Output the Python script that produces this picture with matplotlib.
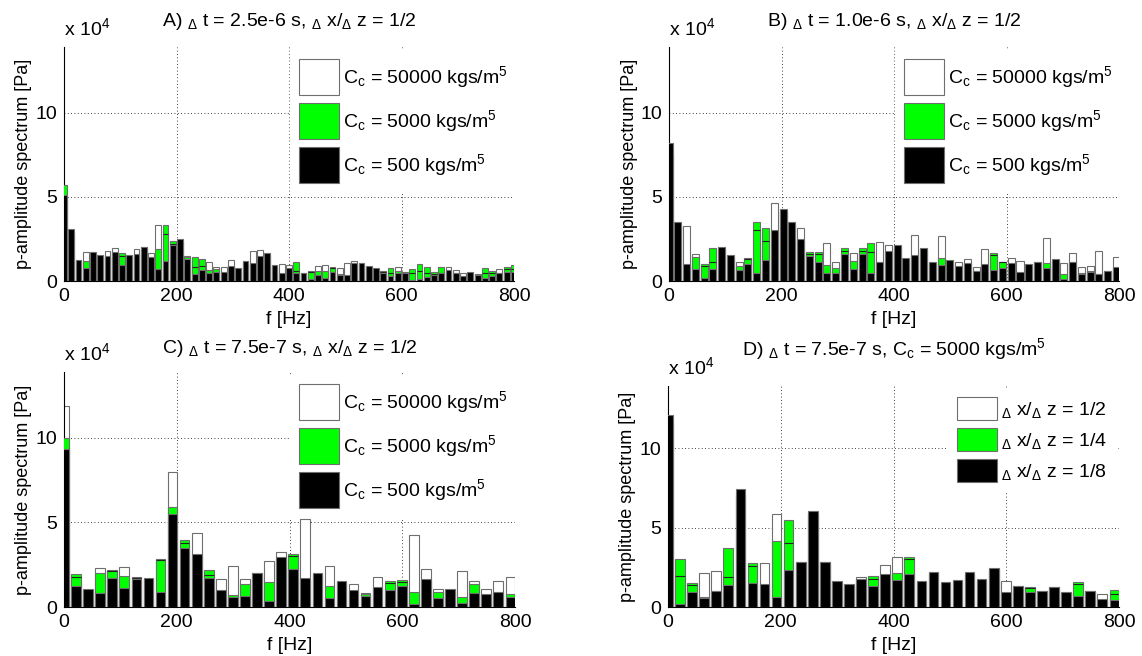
import matplotlib.pyplot as plt
import numpy as np

plt.rcParams['font.family'] = ['Liberation Sans', 'DejaVu Sans']
plt.rcParams['mathtext.fontset'] = 'custom'
plt.rcParams['mathtext.rm'] = 'Liberation Sans'
plt.rcParams['mathtext.it'] = 'Liberation Sans'
plt.rcParams['font.size'] = 14

GREEN = '#00ff00'
EDGE = '#6e6e6e'

# frequency resolution of each run [Hz]
df_a = 12.9
df_b = 15.6
df_cd = 21.4

# amplitude spectra, units of 1e4 Pa
white_a = [4.8, 2.8, 1.1, 1.75, 1.6, 1.5, 1.8, 1.98, 1.5, 1.4,
           1.9, 1.9, 1.65, 3.33, 2.8, 2.2, 2.3, 1.48, 0.85, 0.9,
           1.11, 0.85, 0.85, 1.25, 0.7, 1.1, 1.8, 1.85, 1.5, 0.9,
           0.99, 0.93, 0.6, 0.45, 0.55, 0.91, 0.97, 0.8, 0.75, 1.05,
           1.19, 1.0, 0.85, 0.7, 0.55, 0.45, 0.81, 0.56, 0.45, 0.6,
           0.45, 0.4, 0.5, 0.81, 0.65, 0.46, 0.5, 0.38, 0.5, 0.45,
           0.69, 0.7, 0.7]
green_a = [5.7, 2.9, 1.2, 1.2, 1.65, 1.45, 1.4, 1.6, 1.65, 1.5,
           1.55, 2.0, 1.4, 1.88, 3.33, 2.4, 2.4, 1.4, 1.45, 1.29,
           0.65, 0.7, 0.5, 0.85, 0.6, 1.0, 1.0, 1.4, 1.6, 0.85,
           0.4, 0.7, 1.15, 0.4, 0.6, 0.6, 0.6, 0.85, 0.4, 0.3,
           1.0, 0.95, 0.8, 0.7, 0.6, 0.75, 0.6, 0.4, 0.69, 0.99,
           0.85, 0.56, 0.85, 0.6, 0.5, 0.3, 0.45, 0.4, 0.75, 0.6,
           0.5, 0.85, 0.95]
black_a = [5.1, 3.1, 1.25, 0.75, 1.73, 1.55, 1.49, 1.73, 0.93, 1.55,
           1.6, 2.04, 1.45, 0.7, 1.19, 2.15, 2.48, 1.3, 0.42, 0.65,
           0.5, 0.55, 0.55, 0.9, 0.75, 1.19, 1.09, 1.49, 1.65, 0.93,
           0.46, 0.75, 0.5, 0.5, 0.1, 0.35, 0.16, 0.55, 0.36, 0.36,
           1.05, 1.05, 0.9, 0.75, 0.46, 0.32, 0.5, 0.46, 0.05, 0.1,
           0.26, 0.36, 0.45, 0.65, 0.5, 0.32, 0.56, 0.36, 0.2, 0.3,
           0.46, 0.56, 0.55]

white_b = [7.5, 3.2, 3.27, 1.59, 0.9, 1.1, 1.9, 1.4, 1.15, 1.3,
           3.04, 2.38, 4.62, 4.1, 3.4, 3.13, 1.6, 1.6, 2.28, 1.11,
           1.8, 1.65, 1.8, 1.75, 2.34, 2.14, 2.0, 1.3, 2.74, 1.9,
           1.0, 2.68, 1.2, 1.15, 1.29, 0.85, 1.9, 1.55, 1.1, 1.35,
           1.21, 0.9, 1.1, 2.54, 1.2, 1.09, 1.65, 0.81, 0.91, 1.79,
           0.6, 1.41]
green_b = [7.8, 3.3, 0.9, 1.41, 0.99, 1.98, 1.95, 1.5, 0.91, 1.35,
           3.53, 3.13, 2.9, 4.2, 3.3, 2.4, 1.71, 1.71, 0.95, 0.79,
           1.94, 1.21, 1.94, 2.24, 1.0, 1.7, 2.1, 1.2, 1.5, 1.85,
           1.05, 1.39, 1.15, 0.85, 1.0, 0.6, 0.9, 1.65, 1.15, 1.0,
           0.5, 0.95, 1.05, 1.09, 1.25, 0.4, 1.1, 0.5, 0.62, 0.4,
           0.55, 0.8]
black_b = [8.18, 3.53, 0.99, 0.69, 0.16, 0.69, 2.04, 1.55, 0.65, 0.99,
           0.5, 1.25, 3.04, 4.29, 3.53, 2.48, 1.51, 1.15, 0.5, 0.5,
           1.61, 0.69, 1.61, 0.5, 1.11, 1.79, 2.14, 1.35, 1.55, 1.98,
           1.11, 0.95, 1.25, 0.91, 1.09, 0.62, 0.99, 0.65, 0.75, 1.05,
           0.56, 0.99, 1.15, 0.75, 1.31, 0.1, 1.15, 0.4, 0.52, 0.42,
           0.62, 0.85]

white_c = [11.88, 1.8, 1.0, 2.33, 2.1, 2.39, 1.7, 1.6, 2.8, 7.96,
           3.8, 4.37, 1.9, 1.64, 2.43, 1.64, 1.9, 2.75, 3.28, 3.0,
           5.2, 1.9, 2.43, 1.5, 1.34, 0.85, 1.76, 1.4, 1.5, 4.23,
           2.25, 1.05, 1.0, 2.13, 1.56, 1.09, 1.54, 1.76]
green_c = [10.0, 1.94, 1.0, 2.04, 2.19, 1.86, 1.76, 1.65, 2.83, 5.89,
           3.97, 3.0, 2.19, 0.9, 0.71, 1.36, 2.0, 1.5, 2.8, 3.14,
           1.6, 1.95, 1.25, 1.45, 0.95, 0.75, 1.1, 1.54, 1.6, 0.87,
           1.6, 0.87, 0.95, 0.57, 1.36, 0.7, 0.85, 0.77]
black_c = [9.35, 1.25, 1.07, 0.81, 1.7, 1.15, 1.68, 1.7, 0.91, 5.51,
           3.48, 3.12, 1.7, 1.01, 0.57, 0.65, 2.04, 0.38, 2.94, 2.25,
           1.7, 2.04, 0.55, 1.54, 1.01, 0.65, 1.21, 1.01, 1.26, 0.16,
           1.66, 0.51, 1.05, 0.22, 0.85, 0.75, 0.91, 0.61]

white_d = [11.5, 1.97, 1.4, 2.11, 2.26, 1.9, 7.0, 2.6, 2.78, 5.88,
           4.0, 2.7, 5.8, 2.7, 1.5, 1.4, 1.86, 1.75, 2.64, 3.16,
           3.0, 1.6, 2.1, 1.5, 1.6, 2.1, 1.7, 2.3, 1.63, 1.3,
           1.2, 1.0, 1.2, 0.9, 1.45, 1.0, 0.82, 0.8]
green_d = [11.8, 3.01, 1.49, 0.65, 1.0, 3.68, 7.2, 2.78, 1.4, 4.16,
           5.5, 2.8, 5.9, 2.8, 1.55, 1.35, 1.7, 1.97, 2.0, 2.11,
           3.16, 1.55, 2.15, 1.45, 1.65, 2.05, 1.65, 2.4, 0.9, 1.25,
           1.28, 0.95, 1.25, 0.9, 1.55, 0.95, 0.45, 1.07]
black_d = [12.05, 0.17, 0.96, 0.54, 1.03, 1.38, 7.41, 1.53, 1.44, 0.61,
           2.32, 2.85, 6.03, 2.85, 1.63, 1.42, 1.74, 1.32, 2.07, 1.69,
           2.07, 1.63, 2.2, 1.55, 1.69, 2.2, 1.74, 2.47, 0.96, 1.34,
           0.96, 1.03, 1.28, 0.96, 0.69, 1.03, 0.5, 0.44]

cc_labels = [r'C$_{\rm c}$ = 50000 kgs/m$^5$',
             r'C$_{\rm c}$ = 5000 kgs/m$^5$',
             r'C$_{\rm c}$ = 500 kgs/m$^5$']
dx_labels = [r'$_\Delta$ x/$_\Delta$ z = 1/2',
             r'$_\Delta$ x/$_\Delta$ z = 1/4',
             r'$_\Delta$ x/$_\Delta$ z = 1/8']

titles = [r'A) $_\Delta$ t = 2.5e-6 s, $_\Delta$ x/$_\Delta$ z = 1/2',
          r'B) $_\Delta$ t = 1.0e-6 s, $_\Delta$ x/$_\Delta$ z = 1/2',
          r'C) $_\Delta$ t = 7.5e-7 s, $_\Delta$ x/$_\Delta$ z = 1/2',
          r'D) $_\Delta$ t = 7.5e-7 s, C$_{\rm c}$ = 5000 kgs/m$^5$']

W, H = 1142, 656
fig = plt.figure(figsize=(W / 100, H / 100), dpi=100)


def add_axes_px(left, right, top, bottom):
    return fig.add_axes([left / W, 1 - bottom / H, (right - left) / W, (bottom - top) / H])


def panel(ax, df, white, green, black, labels, title, title_y, leg_xy, hh, ls):
    white = np.array(white)
    green = np.array(green)
    black = np.array(black)
    f = np.arange(len(black)) * df
    w = 0.8 * df
    hw = ax.bar(f, white, w, color='white', edgecolor=EDGE, lw=0.8, zorder=2)
    hg = ax.bar(f, green, w, color=GREEN, edgecolor=EDGE, lw=0.8, zorder=3)
    # top of the white bars seen through the green ones
    idx = white < green
    ax.hlines(white[idx], f[idx] - w / 2, f[idx] + w / 2, color='#222222', lw=0.8, zorder=3.5)
    hb = ax.bar(f, black, w, color='black', edgecolor=EDGE, lw=0.8, zorder=4)

    ax.set_xlim(0, 800)
    ax.set_ylim(0, 13.9)
    ax.set_xticks([0, 200, 400, 600, 800])
    ax.set_yticks([0, 5, 10])
    ax.grid(True, color='black', linestyle=(0, (1, 3)), linewidth=0.6)
    ax.set_axisbelow(True)
    for s in ['top', 'right']:
        ax.spines[s].set_visible(False)
    ax.tick_params(length=0, pad=5)
    ax.set_xlabel('f [Hz]', labelpad=4)
    ax.set_ylabel('p-amplitude spectrum [Pa]', fontsize=13)
    ax.yaxis.set_label_coords(-0.07, 0.5)
    ax.text(0.0, 1.035, r'x 10$^4$', transform=ax.transAxes, ha='left', va='bottom')
    ax.text(0.5, title_y, title, transform=ax.transAxes, ha='center', va='baseline')
    leg = ax.legend([hw, hg, hb], labels, loc='upper left', bbox_to_anchor=leg_xy,
                    borderaxespad=0, borderpad=0.45, handlelength=2.06, handleheight=hh,
                    labelspacing=ls, handletextpad=0.2, fancybox=False,
                    edgecolor='white', framealpha=1)
    leg.set_zorder(10)


ax_a = add_axes_px(64, 514, 47, 281)
ax_b = add_axes_px(669, 1119, 47, 281)
ax_c = add_axes_px(64, 515, 372, 607)
ax_d = add_axes_px(668, 1119, 386, 607)

panel(ax_a, df_a, white_a, green_a, black_a, cc_labels, titles[0], 1.09, (0.502, 0.987), 2.5, 0.4)
panel(ax_b, df_b, white_b, green_b, black_b, cc_labels, titles[1], 1.09, (0.502, 0.987), 2.5, 0.4)
panel(ax_c, df_cd, white_c, green_c, black_c, cc_labels, titles[2], 1.081, (0.502, 0.987), 2.5, 0.4)
panel(ax_d, df_cd, white_d, green_d, black_d, dx_labels, titles[3], 1.14, (0.621, 0.991), 1.44, 0.41)

fig.savefig('out.png', dpi=100)
